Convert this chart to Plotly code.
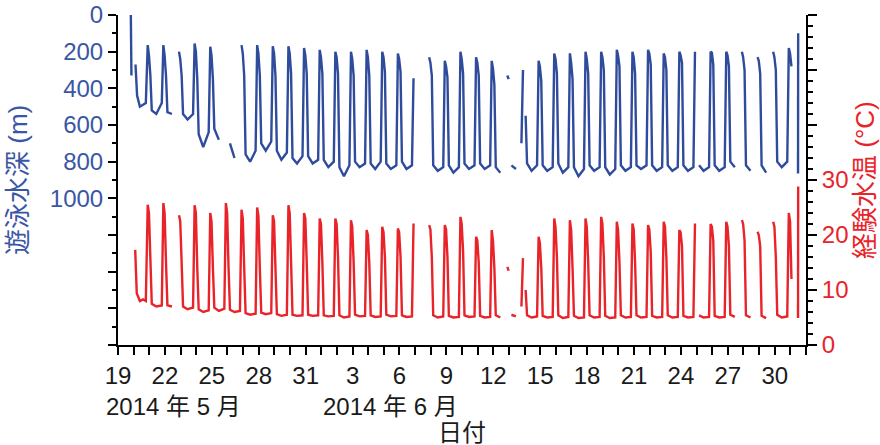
import pandas as pd
import plotly.graph_objects as go

BASE = pd.Timestamp("2014-05-19")

# ---- depth series (m), per night k (midnight of day k after May 19) ----
NIGHTS = list(range(2, 44))
TOP  = [164,164,200,155,173,150,164,164,170,170,180,190,200,200,190,200,210,345,230,250,
        200,230,250,330,300,250,210,209,200,200,190,200,190,210,200,200,200,200,200,230,200,180]
MID  = [220,220,240,200,220,220,210,210,210,210,220,230,230,240,230,230,240,370,260,280,
        240,260,290,350,320,280,240,260,240,230,220,230,210,230,220,220,205,220,230,250,230,210]
NEND = [330,330,330,350,350,380,330,330,330,320,320,320,320,330,330,310,310,400,330,340,
        320,330,380,400,550,360,320,350,320,300,280,320,270,300,260,300,270,280,300,320,300,280]
# daytime deep values (early / midday / late) for day k
DA = [520,530,540,650,620,700,760,700,740,780,770,790,830,800,810,810,800,800,820,820,
      810,810,830,820,810,820,810,830,820,830,820,820,820,820,820,820,820,800,820,820,800,None]
DB = [540,540,570,720,680,780,800,740,790,810,810,830,880,830,840,840,840,830,850,860,
      840,840,860,840,850,850,860,880,850,870,850,840,850,850,850,850,850,830,850,860,830,None]
DC = [480,500,540,640,600,650,740,690,750,770,790,800,820,810,800,820,820,810,830,830,
      820,820,840,700,820,830,830,840,830,840,830,820,830,830,830,830,830,760,830,830,800,None]

# ---- temperature series (deg C) ----
TPEAK = [25.5,25.8,23.6,25.4,24.0,25.8,24.6,25.0,23.6,25.4,24.0,23.0,23.0,22.7,20.9,21.5,21.2,22.1,21.8,21.8,
         23.3,19.7,20.9,14.2,15.8,19.7,23.0,22.7,23.0,23.3,22.4,22.1,21.8,22.4,20.9,22.1,22.0,22.4,22.7,20.6,22.4,24.0]
TMID  = [24,24,22.5,24,22.5,24,23,23.5,22.5,24,23,22,22,21.5,20,20.5,20.5,21,21,21,
         22,19,19,13.5,15,18.5,21.5,21,21.5,22,21,21,21,21.5,20.5,21,21.5,21.5,22,20,21.5,22.5]
TEND  = [15,15,15,14,14,14,14,14,14,15,15,15,16,15,15,16,16,17,16,16,
         17,15,14,12,10,14,16,14,15,16,15,15,17,16,18,18,19,18,19,18,16,12]
TDA = [7.5,7.2,7.0,6.5,6.8,6.4,5.8,5.9,5.6,5.5,5.5,5.4,5.4,5.5,5.4,5.5,5.4,5.5,5.4,5.3,
       5.4,5.3,5.4,5.5,5.4,5.3,5.4,5.3,5.4,5.3,5.4,5.4,5.3,5.4,5.3,5.4,5.3,5.5,5.4,5.3,5.5,None]
TDB = [7.0,7.0,6.5,6.0,6.2,6.0,5.5,5.6,5.3,5.3,5.3,5.2,5.0,5.2,5.1,5.2,5.1,5.2,5.0,5.0,
       5.1,5.0,5.0,5.2,5.0,5.0,4.9,4.9,5.0,4.9,5.0,5.0,5.0,5.0,5.0,5.0,5.0,5.1,5.0,4.9,5.0,None]
TDC = [7.2,7.3,6.8,6.3,6.6,6.2,5.7,5.8,5.5,5.4,5.4,5.3,5.2,5.3,5.2,5.3,5.2,5.3,5.2,5.1,
       5.2,5.1,5.2,7.0,5.2,5.1,5.1,5.0,5.1,5.0,5.1,5.1,5.1,5.1,5.1,5.1,5.1,6.0,5.1,5.0,5.2,None]

# start / end pieces (day offset, value)
BLUE_PREFIX_T = [0.82, 0.86, 1.12, 1.22, 1.40, 1.60, 1.78]
BLUE_PREFIX_V = [0, 330, 270, 440, 500, 490, 480]
BLUE_SUFFIX_T = [43.49, 43.50]
BLUE_SUFFIX_V = [865, 100]
RED_PREFIX_T = [1.10, 1.20, 1.40, 1.60, 1.78]
RED_PREFIX_V = [17.3, 9.4, 8.0, 8.3, 8.0]
RED_SUFFIX_T = [43.49, 43.50]
RED_SUFFIX_V = [4.9, 28.8]

# missing-data intervals (day offsets)
BOTH_GAPS = [(3.7, 3.85), (18.92, 19.1), (19.3, 19.88), (24.6, 24.85), (25.02, 25.1),
             (25.6, 25.75), (25.95, 26.05), (36.95, 37.1), (39.7, 39.85), (40.7, 40.85), (41.65, 41.85)]
BLUE_GAPS = [(0.87, 1.1), (6.6, 7.1), (7.6, 7.85), (43.1, 43.48)]
RED_GAPS = [(43.2, 43.48)]

TICK_LABELS = ["19","","","22","","","25","","","28","","","31","","","3","","","6","","",
               "9","","","12","","","15","","","18","","","21","","","24","","","27","","","30","",""]
DEPTH_TICKS = [0, 200, 400, 600, 800, 1000, 1200, 1400, 1600, 1800]
DEPTH_LABELS = ["0", "200", "400", "600", "800", "1000", "", "", "", ""]
TEMP_TICKS = [0, 10, 20, 30, 40, 50, 60]
TEMP_LABELS = ["0", "10", "20", "30", "", "", ""]

# position of each night/day vertex within a cycle (days from midnight)
PHASE = [-0.10, -0.02, 0.07, 0.16, 0.45, 0.80]


def build(prefix_t, prefix_v, suffix_t, suffix_v, night_vals, day_vals, gaps):
    pts = list(zip(prefix_t, prefix_v))
    for i, k in enumerate(NIGHTS):
        vals = [night_vals[0][i], night_vals[1][i], night_vals[2][i],
                day_vals[0][i], day_vals[1][i], day_vals[2][i]]
        for ph, v in zip(PHASE, vals):
            if v is not None:
                pts.append((k + ph, v))
    pts += list(zip(suffix_t, suffix_v))
    pts.sort()
    pts = [p for p in pts if not any(a < p[0] < b for a, b in gaps)]
    xs, ys = [], []
    for j, (t, v) in enumerate(pts):
        if j > 0:
            tp = pts[j - 1][0]
            if any(a >= tp and b <= t for a, b in gaps):
                xs.append(None)
                ys.append(None)
        xs.append(BASE + pd.Timedelta(days=t))
        ys.append(v)
    return xs, ys


bx, by = build(BLUE_PREFIX_T, BLUE_PREFIX_V, BLUE_SUFFIX_T, BLUE_SUFFIX_V,
               (TOP, MID, NEND), (DA, DB, DC), BOTH_GAPS + BLUE_GAPS)
rx, ry = build(RED_PREFIX_T, RED_PREFIX_V, RED_SUFFIX_T, RED_SUFFIX_V,
               (TPEAK, TMID, TEND), (TDA, TDB, TDC), BOTH_GAPS + RED_GAPS)

BLUE = "#2f4c9c"
RED = "#e8242a"
FONT = "Liberation Sans, Arial, Noto Sans CJK JP, sans-serif"

fig = go.Figure()
fig.add_trace(go.Scatter(x=bx, y=by, mode="lines", line=dict(color=BLUE, width=2.4),
                         yaxis="y", connectgaps=False, hoverinfo="skip"))
fig.add_trace(go.Scatter(x=rx, y=ry, mode="lines", line=dict(color=RED, width=2.4),
                         yaxis="y2", connectgaps=False, hoverinfo="skip"))

tick_dates = pd.date_range("2014-05-19", "2014-07-02", freq="D")

fig.update_layout(
    width=880, height=445,
    margin=dict(l=118, r=74, t=15, b=100, autoexpand=False),
    plot_bgcolor="white", paper_bgcolor="white",
    showlegend=False,
    font=dict(family=FONT),
    xaxis=dict(type="date", range=["2014-05-19", "2014-07-02"], automargin=False,
               tickmode="array", tickvals=list(tick_dates), ticktext=TICK_LABELS,
               ticks="outside", ticklen=8, tickwidth=1.5, tickcolor="black",
               showline=True, linecolor="black", linewidth=2,
               showgrid=False, zeroline=False,
               tickfont=dict(family=FONT, size=24, color="#1a1a1a")),
    yaxis=dict(range=[1800, 0], automargin=False,
               tickmode="array", tickvals=DEPTH_TICKS, ticktext=DEPTH_LABELS,
               ticks="outside", ticklen=8, tickwidth=1.5, tickcolor="black",
               minor=dict(ticks="outside", ticklen=4, tickwidth=1.5, tickcolor="black",
                          tickmode="linear", tick0=0, dtick=100, showgrid=False),
               showline=True, linecolor="black", linewidth=2,
               showgrid=False, zeroline=False,
               tickfont=dict(family=FONT, size=24, color="#3a56a6")),
    yaxis2=dict(overlaying="y", side="right", anchor="x", range=[0, 60], automargin=False,
                tickmode="array", tickvals=TEMP_TICKS, ticktext=TEMP_LABELS,
                ticks="outside", ticklen=9, tickwidth=1.5, tickcolor="black",
                minor=dict(ticks="outside", ticklen=5, tickwidth=1.5, tickcolor="black",
                           tickmode="linear", tick0=0, dtick=2, showgrid=False),
                showline=True, linecolor="black", linewidth=2,
                showgrid=False, zeroline=False,
                tickfont=dict(family=FONT, size=24, color=RED)),
)

fig.add_annotation(text="2014 年 5 月", xref="x", yref="paper", x="2014-05-19", y=0,
                   xanchor="left", yanchor="top", xshift=-14, yshift=-46, showarrow=False,
                   font=dict(family=FONT, size=24, color="#1a1a1a"))
fig.add_annotation(text="2014 年 6 月", xref="x", yref="paper", x="2014-06-01", y=0,
                   xanchor="left", yanchor="top", xshift=0, yshift=-46, showarrow=False,
                   font=dict(family=FONT, size=24, color="#1a1a1a"))
fig.add_annotation(text="日付", xref="paper", yref="paper", x=0.5, y=0,
                   xanchor="center", yanchor="top", yshift=-72, showarrow=False,
                   font=dict(family=FONT, size=24, color="#1a1a1a"))
fig.add_annotation(text="遊泳水深 (m)", xref="paper", yref="paper", x=0, y=0.5,
                   xanchor="center", yanchor="middle", xshift=-100, textangle=-90, showarrow=False,
                   font=dict(family=FONT, size=26, color="#3a56a6"))
fig.add_annotation(text="経験水温 (°C)", xref="paper", yref="paper", x=1, y=0.5,
                   xanchor="center", yanchor="middle", xshift=59, textangle=-90, showarrow=False,
                   font=dict(family=FONT, size=26, color=RED))

fig.write_html("out.html", config={"displayModeBar": False},
               post_script="document.body.style.margin='0px';document.body.style.overflow='hidden';")
